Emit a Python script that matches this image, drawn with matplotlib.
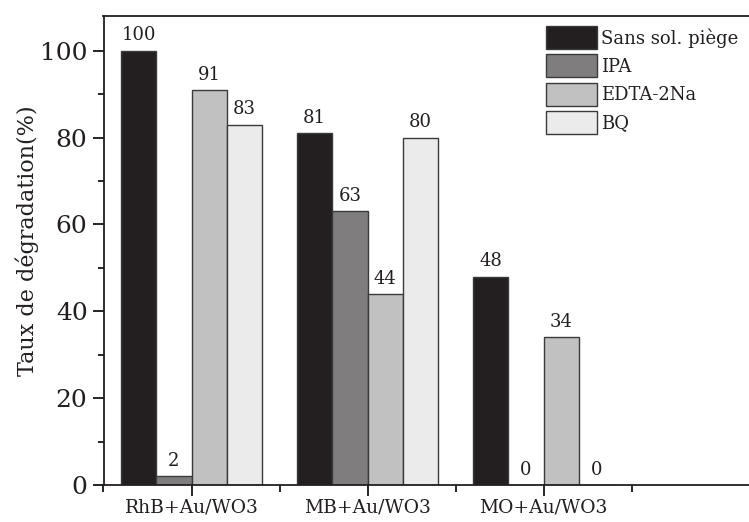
import matplotlib
matplotlib.use("Agg")
import matplotlib.pyplot as plt
import numpy as np
from matplotlib.ticker import MultipleLocator

categories = ["RhB+Au/WO3", "MB+Au/WO3", "MO+Au/WO3"]
series_names = ["Sans sol. piège", "IPA", "EDTA-2Na", "BQ"]
sans = [100, 81, 48]
ipa = [2, 63, 0]
edta = [91, 44, 34]
bq = [83, 80, 0]
series_values = [sans, ipa, edta, bq]
colors = ["#231f20", "#7f7d7e", "#c1c1c1", "#ebebeb"]

plt.rcParams['font.family'] = ['DejaVu Serif']

fig = plt.figure(figsize=(7.49, 5.22), dpi=100)
ax = fig.add_axes([103.5/749, 37/522, 1 - 103.5/749, 469/522])

x = np.arange(len(categories))
w = 0.2
for i, (name, vals, c) in enumerate(zip(series_names, series_values, colors)):
    pos = x + (i - 1.5) * w
    ax.bar(pos, vals, width=w, color=c, edgecolor="#3a3a3a", linewidth=1.0, label=name)
    for p, v in zip(pos, vals):
        ax.annotate(f"{v}", (p, v), xytext=(0, 4.5), textcoords="offset points",
                    ha="center", va="bottom", fontsize=13, color="#231f20")

ax.set_xlim(-0.5, 3.167)
ax.set_ylim(0, 108)
ax.set_xticks(x)
ax.set_xticklabels(categories, fontsize=13.5, color="#231f20")
ax.set_xticks([-0.5, 0.5, 1.5, 2.5], minor=True)
ax.yaxis.set_major_locator(MultipleLocator(20))
ax.yaxis.set_minor_locator(MultipleLocator(10))
ax.tick_params(axis='y', which='major', length=8, width=1.2, labelsize=18, labelcolor="#231f20")
ax.tick_params(axis='y', which='minor', length=4, width=1.2)
ax.tick_params(axis='x', which='major', length=8, width=1.2, pad=1.5)
ax.tick_params(axis='x', which='minor', length=5, width=1.2)
ax.set_ylabel("Taux de dégradation(%)", fontsize=16, color="#231f20")
ax.yaxis.set_label_coords(-0.1, 0.52)
ax.spines['right'].set_visible(False)
for s in ['left', 'bottom', 'top']:
    ax.spines[s].set_linewidth(1.3)
    ax.spines[s].set_color("#231f20")

leg = fig.legend(loc="upper left", bbox_to_anchor=(546/749, 1 - 26/522), frameon=False,
                 fontsize=13, handlelength=2.8, handleheight=1.6, labelspacing=0.28,
                 handletextpad=0.25, borderpad=0, borderaxespad=0)
for t in leg.get_texts():
    t.set_color("#231f20")

fig.savefig("out.png", dpi=100)
